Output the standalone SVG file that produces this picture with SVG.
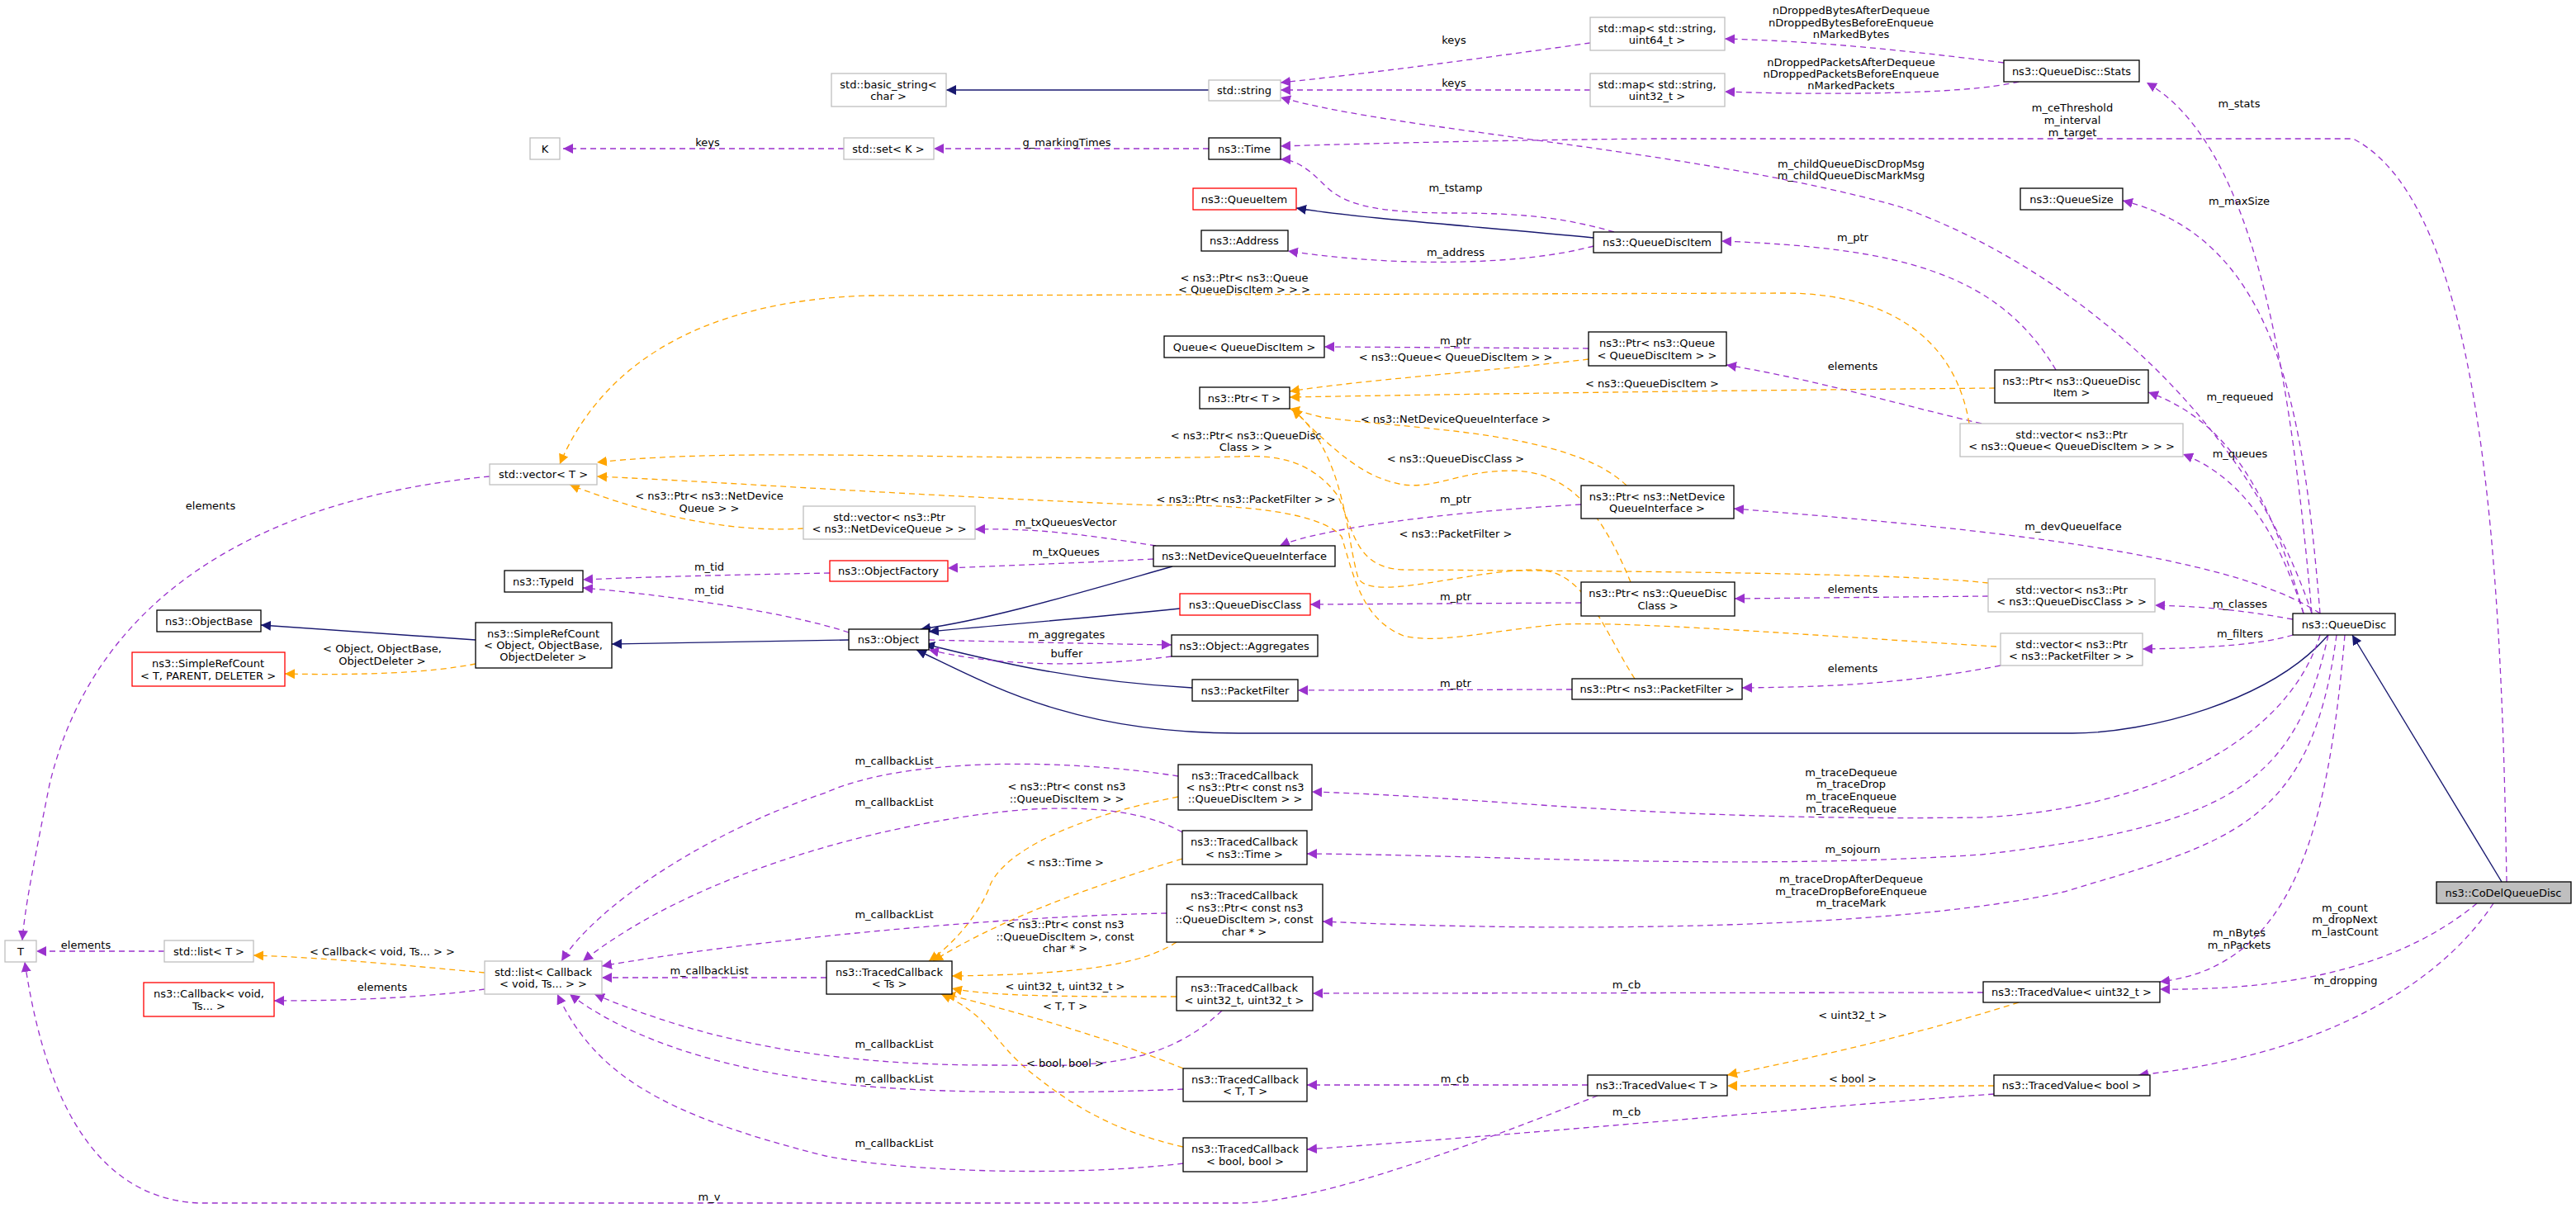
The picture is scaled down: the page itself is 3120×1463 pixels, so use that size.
<svg xmlns="http://www.w3.org/2000/svg" width="3120" height="1463" viewBox="0 0 3120 1463">
<style>
text{font-family:"DejaVu Sans","Liberation Sans",sans-serif;font-size:13px;fill:#000;text-anchor:middle;dominant-baseline:central}
.n rect{fill:#fff;stroke:#000;stroke-width:1.3}
.g rect{fill:#fff;stroke:#bfbfbf;stroke-width:1.3}
.r rect{fill:#fff;stroke:#ff0000;stroke-width:1.3}
.f rect{fill:#bfbfbf;stroke:#000;stroke-width:1.3}
.p{fill:none;stroke:#9a32cd;stroke-width:1.3;stroke-dasharray:7,5;marker-end:url(#mp)}
.o{fill:none;stroke:#ffa500;stroke-width:1.3;stroke-dasharray:7,5;marker-end:url(#mo)}
.b{fill:none;stroke:#191970;stroke-width:1.4;marker-end:url(#mb)}
</style>
<defs>
<marker id="mp" viewBox="0 0 10 10" refX="10" refY="5" markerWidth="12" markerHeight="12" markerUnits="userSpaceOnUse" orient="auto"><path d="M0,0L10,5L0,10z" fill="#9a32cd"/></marker>
<marker id="mo" viewBox="0 0 10 10" refX="10" refY="5" markerWidth="12" markerHeight="12" markerUnits="userSpaceOnUse" orient="auto"><path d="M0,0L10,5L0,10z" fill="#ffa500"/></marker>
<marker id="mb" viewBox="0 0 10 10" refX="10" refY="5" markerWidth="12" markerHeight="12" markerUnits="userSpaceOnUse" orient="auto"><path d="M0,0L10,5L0,10z" fill="#191970"/></marker>
</defs>
<rect width="3120" height="1463" fill="#fff"/>
<g id="edges">
<path class="b" d="M1464,109L1146,109"/>
<path class="p" d="M1926,52C1800,70 1650,90 1551,100"/>
<path class="p" d="M1926,109L1551,109"/>
<path class="p" d="M2800,743C2720,500 2500,320 2300,250C2050,180 1700,160 1551,118"/>
<path class="p" d="M2427,76C2300,60 2200,50 2089,47"/>
<path class="p" d="M2445,99C2380,115 2200,115 2089,111"/>
<path class="p" d="M3036,1068C3030,700 3010,250 2850,168L2000,168C1800,170 1650,174 1551,177"/>
<path class="p" d="M1022,180L682,180"/>
<path class="p" d="M1464,180L1131,180"/>
<path class="p" d="M1955,281C1900,265 1850,258 1760,258C1640,258 1620,240 1600,220C1580,200 1565,193 1551,193"/>
<path class="b" d="M1930,288C1800,275 1650,265 1570,252"/>
<path class="p" d="M1930,298C1850,320 1700,325 1560,304"/>
<path class="p" d="M2800,743C2770,400 2720,170 2600,100"/>
<path class="p" d="M2810,743C2790,500 2760,290 2571,243"/>
<path class="p" d="M2790,743C2750,600 2700,510 2602,475"/>
<path class="p" d="M2490,448C2420,330 2300,300 2085,292"/>
<path class="p" d="M2790,743C2760,650 2720,580 2644,550"/>
<path class="p" d="M2400,513C2300,490 2200,460 2091,442"/>
<path class="p" d="M1924,422L1604,420"/>
<path class="o" d="M1924,435C1800,450 1650,460 1562,474"/>
<path class="o" d="M2416,470C2200,472 1900,475 1562,481"/>
<path class="o" d="M2385,513C2370,420 2300,355 2160,355L1050,358C850,365 730,440 678,562"/>
<path class="o" d="M1970,588C1900,520 1700,520 1600,505C1580,500 1570,497 1562,495"/>
<path class="o" d="M1975,705C1940,620 1900,570 1830,570C1760,570 1730,600 1680,582C1640,570 1600,530 1565,495"/>
<path class="o" d="M1980,822C1940,760 1920,690 1860,690C1780,690 1660,730 1645,700C1630,650 1630,550 1565,495"/>
<path class="o" d="M2408,706C2300,694 2000,692 1700,690C1640,688 1640,640 1620,600C1590,560 1550,550 1500,553C1200,560 900,540 723,560"/>
<path class="o" d="M2418,783C2200,770 1950,750 1880,757C1800,765 1740,780 1700,770C1650,750 1640,700 1625,650C1600,620 1500,610 1400,612C1100,600 900,585 723,577"/>
<path class="o" d="M973,640C900,645 800,630 690,587"/>
<path class="p" d="M593,577C350,600 120,700 60,950C40,1050 30,1100 27,1139"/>
<path class="p" d="M1400,661C1300,645 1250,640 1181,641"/>
<path class="p" d="M1397,677C1300,682 1220,685 1148,688"/>
<path class="p" d="M1005,694C900,696 800,698 706,702"/>
<path class="p" d="M1028,766C950,740 800,720 706,712"/>
<path class="p" d="M1915,611C1750,620 1600,640 1550,661"/>
<path class="p" d="M1915,730L1587,732"/>
<path class="p" d="M1904,835L1572,836"/>
<path class="p" d="M2408,722L2101,725"/>
<path class="p" d="M2423,806C2300,830 2200,832 2110,833"/>
<path class="p" d="M2810,743C2700,670 2400,640 2100,616"/>
<path class="p" d="M2777,750C2720,740 2680,735 2610,733"/>
<path class="p" d="M2777,769C2740,780 2680,785 2595,786"/>
<path class="b" d="M1420,686C1300,720 1200,750 1115,762"/>
<path class="b" d="M1429,737C1300,750 1200,758 1125,765"/>
<path class="b" d="M1444,833C1300,825 1200,800 1120,780"/>
<path class="b" d="M2820,769C2750,850 2600,888 2510,888L1500,888C1300,888 1200,830 1110,787"/>
<path class="p" d="M1125,775C1250,778 1350,780 1419,781"/>
<path class="p" d="M1419,795C1300,810 1200,805 1125,787"/>
<path class="b" d="M1028,775L741,780"/>
<path class="b" d="M576,775L316,757"/>
<path class="o" d="M576,804C520,815 440,818 345,816"/>
<path class="p" d="M2810,769C2770,900 2600,980 2400,990C2000,995 1800,965 1589,959"/>
<path class="p" d="M2820,769C2780,950 2700,1000 2400,1035C2100,1055 1800,1035 1583,1034"/>
<path class="p" d="M2830,769C2800,1000 2700,1020 2500,1080C2300,1125 1900,1130 1602,1116"/>
<path class="p" d="M2840,769C2820,1000 2780,1170 2616,1189"/>
<path class="p" d="M3000,1094C2920,1160 2800,1200 2616,1198"/>
<path class="p" d="M3020,1094C2950,1200 2800,1280 2590,1302"/>
<path class="b" d="M3030,1068L2849,769"/>
<path class="p" d="M2402,1202L1590,1203"/>
<path class="o" d="M2445,1214C2300,1260 2150,1290 2092,1302"/>
<path class="o" d="M2415,1315L2092,1315"/>
<path class="p" d="M1923,1314L1583,1314"/>
<path class="p" d="M2415,1325C2200,1340 1900,1370 1583,1392"/>
<path class="p" d="M1935,1327C1800,1380 1600,1457 1500,1457L240,1457C100,1450 50,1300 30,1165"/>
<path class="o" d="M1432,1040C1300,1080 1200,1120 1130,1164"/>
<path class="o" d="M1427,965C1300,990 1220,1030 1200,1070C1190,1100 1160,1140 1125,1164"/>
<path class="o" d="M1425,1141C1380,1170 1300,1180 1153,1182"/>
<path class="o" d="M1425,1207C1300,1207 1200,1207 1153,1197"/>
<path class="o" d="M1433,1294C1350,1260 1250,1230 1145,1204"/>
<path class="o" d="M1433,1389C1350,1370 1300,1340 1250,1300C1200,1260 1200,1230 1140,1204"/>
<path class="p" d="M1001,1184L729,1184"/>
<path class="o" d="M587,1178C500,1170 400,1160 307,1157"/>
<path class="p" d="M587,1198C500,1210 400,1212 332,1212"/>
<path class="p" d="M199,1152L44,1152"/>
<path class="p" d="M1427,940C1300,920 1100,915 1000,960C850,1010 720,1100 680,1164"/>
<path class="p" d="M1432,1008C1400,990 1350,975 1250,980C1100,990 850,1050 706,1164"/>
<path class="p" d="M1413,1106C1200,1110 900,1140 729,1170"/>
<path class="p" d="M1480,1224C1400,1300 1300,1290 1200,1290C1000,1290 850,1260 720,1204"/>
<path class="p" d="M1433,1319C1300,1325 1100,1325 1000,1310C850,1290 750,1250 690,1204"/>
<path class="p" d="M1433,1409C1300,1425 1100,1420 1000,1400C800,1350 720,1300 675,1204"/>
<g id="edge-labels">
<text x="857" y="172">keys</text>
<text x="1761" y="48">keys</text>
<text x="1761" y="100">keys</text>
<text x="1292" y="172">g_markingTimes</text>
<text x="2242" y="12">nDroppedBytesAfterDequeue</text>
<text x="2242" y="27">nDroppedBytesBeforeEnqueue</text>
<text x="2242" y="41">nMarkedBytes</text>
<text x="2242" y="75">nDroppedPacketsAfterDequeue</text>
<text x="2242" y="89">nDroppedPacketsBeforeEnqueue</text>
<text x="2242" y="103">nMarkedPackets</text>
<text x="2510" y="130">m_ceThreshold</text>
<text x="2510" y="145">m_interval</text>
<text x="2510" y="160">m_target</text>
<text x="2242" y="198">m_childQueueDiscDropMsg</text>
<text x="2242" y="212">m_childQueueDiscMarkMsg</text>
<text x="2712" y="125">m_stats</text>
<text x="2712" y="243">m_maxSize</text>
<text x="1763" y="227">m_tstamp</text>
<text x="1763" y="305">m_address</text>
<text x="2244" y="287">m_ptr</text>
<text x="1507" y="336">&lt; ns3::Ptr&lt; ns3::Queue</text>
<text x="1507" y="350">&lt; QueueDiscItem &gt; &gt; &gt;</text>
<text x="1763" y="412">m_ptr</text>
<text x="1763" y="432">&lt; ns3::Queue&lt; QueueDiscItem &gt; &gt;</text>
<text x="2244" y="443">elements</text>
<text x="2001" y="464">&lt; ns3::QueueDiscItem &gt;</text>
<text x="2713" y="480">m_requeued</text>
<text x="1763" y="507">&lt; ns3::NetDeviceQueueInterface &gt;</text>
<text x="1509" y="527">&lt; ns3::Ptr&lt; ns3::QueueDisc</text>
<text x="1509" y="541">Class &gt; &gt;</text>
<text x="2713" y="549">m_queues</text>
<text x="1763" y="555">&lt; ns3::QueueDiscClass &gt;</text>
<text x="255" y="612">elements</text>
<text x="859" y="600">&lt; ns3::Ptr&lt; ns3::NetDevice</text>
<text x="859" y="615">Queue &gt; &gt;</text>
<text x="1509" y="604">&lt; ns3::Ptr&lt; ns3::PacketFilter &gt; &gt;</text>
<text x="1763" y="604">m_ptr</text>
<text x="1291" y="632">m_txQueuesVector</text>
<text x="2511" y="637">m_devQueueIface</text>
<text x="1763" y="646">&lt; ns3::PacketFilter &gt;</text>
<text x="1291" y="668">m_txQueues</text>
<text x="859" y="686">m_tid</text>
<text x="859" y="714">m_tid</text>
<text x="2244" y="713">elements</text>
<text x="1763" y="722">m_ptr</text>
<text x="2713" y="731">m_classes</text>
<text x="1292" y="768">m_aggregates</text>
<text x="2713" y="767">m_filters</text>
<text x="463" y="785">&lt; Object, ObjectBase,</text>
<text x="463" y="800">ObjectDeleter &gt;</text>
<text x="1292" y="791">buffer</text>
<text x="2244" y="809">elements</text>
<text x="1763" y="827">m_ptr</text>
<text x="1083" y="921">m_callbackList</text>
<text x="1083" y="971">m_callbackList</text>
<text x="1292" y="952">&lt; ns3::Ptr&lt; const ns3</text>
<text x="1292" y="967">::QueueDiscItem &gt; &gt;</text>
<text x="2242" y="935">m_traceDequeue</text>
<text x="2242" y="949">m_traceDrop</text>
<text x="2242" y="964">m_traceEnqueue</text>
<text x="2242" y="979">m_traceRequeue</text>
<text x="2244" y="1028">m_sojourn</text>
<text x="1290" y="1044">&lt; ns3::Time &gt;</text>
<text x="2242" y="1064">m_traceDropAfterDequeue</text>
<text x="2242" y="1079">m_traceDropBeforeEnqueue</text>
<text x="2242" y="1093">m_traceMark</text>
<text x="2840" y="1099">m_count</text>
<text x="2840" y="1113">m_dropNext</text>
<text x="2840" y="1128">m_lastCount</text>
<text x="1083" y="1107">m_callbackList</text>
<text x="1290" y="1119">&lt; ns3::Ptr&lt; const ns3</text>
<text x="1290" y="1134">::QueueDiscItem &gt;, const</text>
<text x="1290" y="1148">char * &gt;</text>
<text x="2712" y="1129">m_nBytes</text>
<text x="2712" y="1144">m_nPackets</text>
<text x="104" y="1144">elements</text>
<text x="463" y="1152">&lt; Callback&lt; void, Ts... &gt; &gt;</text>
<text x="859" y="1175">m_callbackList</text>
<text x="2841" y="1187">m_dropping</text>
<text x="1970" y="1192">m_cb</text>
<text x="1290" y="1194">&lt; uint32_t, uint32_t &gt;</text>
<text x="463" y="1195">elements</text>
<text x="1290" y="1218">&lt; T, T &gt;</text>
<text x="2244" y="1229">&lt; uint32_t &gt;</text>
<text x="1083" y="1264">m_callbackList</text>
<text x="1290" y="1287">&lt; bool, bool &gt;</text>
<text x="1762" y="1306">m_cb</text>
<text x="1083" y="1306">m_callbackList</text>
<text x="2244" y="1306">&lt; bool &gt;</text>
<text x="1970" y="1346">m_cb</text>
<text x="1083" y="1384">m_callbackList</text>
<text x="859" y="1449">m_v</text>
</g>
</g>
<g id="n_basic_string" class="g"><rect x="1007" y="89" width="139" height="40"/><text x="1076" y="102">std::basic_string&lt;</text><text x="1076" y="116">char &gt;</text></g>
<g id="n_string" class="g"><rect x="1464" y="97" width="87" height="25"/><text x="1507" y="109">std::string</text></g>
<g id="n_map64" class="g"><rect x="1926" y="21" width="163" height="40"/><text x="2007" y="34">std::map&lt; std::string,</text><text x="2007" y="48">uint64_t &gt;</text></g>
<g id="n_map32" class="g"><rect x="1926" y="89" width="163" height="40"/><text x="2007" y="102">std::map&lt; std::string,</text><text x="2007" y="116">uint32_t &gt;</text></g>
<g id="n_stats" class="n"><rect x="2427" y="73" width="164" height="26"/><text x="2509" y="86">ns3::QueueDisc::Stats</text></g>
<g id="n_K" class="g"><rect x="642" y="167" width="36" height="26"/><text x="660" y="180">K</text></g>
<g id="n_set" class="g"><rect x="1022" y="167" width="109" height="26"/><text x="1076" y="180">std::set&lt; K &gt;</text></g>
<g id="n_time" class="n"><rect x="1464" y="167" width="87" height="26"/><text x="1507" y="180">ns3::Time</text></g>
<g id="n_queuesize" class="n"><rect x="2447" y="228" width="124" height="26"/><text x="2509" y="241">ns3::QueueSize</text></g>
<g id="n_queueitem" class="r"><rect x="1445" y="228" width="125" height="26"/><text x="1507" y="241">ns3::QueueItem</text></g>
<g id="n_address" class="n"><rect x="1455" y="279" width="105" height="25"/><text x="1507" y="291">ns3::Address</text></g>
<g id="n_qdi" class="n"><rect x="1930" y="281" width="155" height="25"/><text x="2007" y="293">ns3::QueueDiscItem</text></g>
<g id="n_queueqdi" class="n"><rect x="1410" y="407" width="194" height="26"/><text x="1507" y="420">Queue&lt; QueueDiscItem &gt;</text></g>
<g id="n_ptrqueue" class="n"><rect x="1924" y="402" width="167" height="41"/><text x="2007" y="415">ns3::Ptr&lt; ns3::Queue</text><text x="2007" y="430">&lt; QueueDiscItem &gt; &gt;</text></g>
<g id="n_ptrT" class="n"><rect x="1453" y="469" width="109" height="26"/><text x="1507" y="482">ns3::Ptr&lt; T &gt;</text></g>
<g id="n_ptrqdi" class="n"><rect x="2416" y="448" width="186" height="40"/><text x="2509" y="461">ns3::Ptr&lt; ns3::QueueDisc</text><text x="2509" y="475">Item &gt;</text></g>
<g id="n_vecptrqueue" class="g"><rect x="2374" y="513" width="270" height="40"/><text x="2509" y="526">std::vector&lt; ns3::Ptr</text><text x="2509" y="540">&lt; ns3::Queue&lt; QueueDiscItem &gt; &gt; &gt;</text></g>
<g id="n_vecT" class="g"><rect x="593" y="562" width="130" height="25"/><text x="658" y="574">std::vector&lt; T &gt;</text></g>
<g id="n_ptrndqi" class="n"><rect x="1915" y="588" width="185" height="40"/><text x="2007" y="601">ns3::Ptr&lt; ns3::NetDevice</text><text x="2007" y="615">QueueInterface &gt;</text></g>
<g id="n_vecndq" class="g"><rect x="973" y="613" width="208" height="40"/><text x="1077" y="626">std::vector&lt; ns3::Ptr</text><text x="1077" y="640">&lt; ns3::NetDeviceQueue &gt; &gt;</text></g>
<g id="n_ndqi" class="n"><rect x="1397" y="661" width="220" height="25"/><text x="1507" y="673">ns3::NetDeviceQueueInterface</text></g>
<g id="n_objfactory" class="r"><rect x="1005" y="679" width="143" height="25"/><text x="1076" y="691">ns3::ObjectFactory</text></g>
<g id="n_typeid" class="n"><rect x="611" y="691" width="95" height="26"/><text x="658" y="704">ns3::TypeId</text></g>
<g id="n_qdclass" class="r"><rect x="1429" y="719" width="158" height="26"/><text x="1508" y="732">ns3::QueueDiscClass</text></g>
<g id="n_ptrqdc" class="n"><rect x="1915" y="705" width="186" height="41"/><text x="2008" y="718">ns3::Ptr&lt; ns3::QueueDisc</text><text x="2008" y="733">Class &gt;</text></g>
<g id="n_vecptrqdc" class="g"><rect x="2408" y="701" width="202" height="40"/><text x="2509" y="714">std::vector&lt; ns3::Ptr</text><text x="2509" y="728">&lt; ns3::QueueDiscClass &gt; &gt;</text></g>
<g id="n_queuedisc" class="n"><rect x="2777" y="743" width="124" height="26"/><text x="2839" y="756">ns3::QueueDisc</text></g>
<g id="n_objectbase" class="n"><rect x="190" y="739" width="126" height="26"/><text x="253" y="752">ns3::ObjectBase</text></g>
<g id="n_srcobj" class="n"><rect x="576" y="754" width="165" height="55"/><text x="658" y="767">ns3::SimpleRefCount</text><text x="658" y="781">&lt; Object, ObjectBase,</text><text x="658" y="795">ObjectDeleter &gt;</text></g>
<g id="n_object" class="n"><rect x="1028" y="762" width="97" height="25"/><text x="1076" y="774">ns3::Object</text></g>
<g id="n_aggregates" class="n"><rect x="1419" y="769" width="177" height="26"/><text x="1507" y="782">ns3::Object::Aggregates</text></g>
<g id="n_vecptrpf" class="g"><rect x="2423" y="767" width="172" height="39"/><text x="2509" y="780">std::vector&lt; ns3::Ptr</text><text x="2509" y="794">&lt; ns3::PacketFilter &gt; &gt;</text></g>
<g id="n_srcT" class="r"><rect x="160" y="790" width="185" height="41"/><text x="252" y="803">ns3::SimpleRefCount</text><text x="252" y="818">&lt; T, PARENT, DELETER &gt;</text></g>
<g id="n_packetfilter" class="n"><rect x="1444" y="823" width="128" height="26"/><text x="1508" y="836">ns3::PacketFilter</text></g>
<g id="n_ptrpf" class="n"><rect x="1904" y="822" width="206" height="25"/><text x="2007" y="834">ns3::Ptr&lt; ns3::PacketFilter &gt;</text></g>
<g id="n_tcptrqdi" class="n"><rect x="1427" y="926" width="162" height="55"/><text x="1508" y="939">ns3::TracedCallback</text><text x="1508" y="953">&lt; ns3::Ptr&lt; const ns3</text><text x="1508" y="967">::QueueDiscItem &gt; &gt;</text></g>
<g id="n_tctime" class="n"><rect x="1432" y="1006" width="151" height="41"/><text x="1507" y="1019">ns3::TracedCallback</text><text x="1507" y="1034">&lt; ns3::Time &gt;</text></g>
<g id="n_codel" class="f"><rect x="2951" y="1068" width="163" height="26"/><text x="3032" y="1081">ns3::CoDelQueueDisc</text></g>
<g id="n_tcptrchar" class="n"><rect x="1413" y="1071" width="189" height="70"/><text x="1507" y="1084">ns3::TracedCallback</text><text x="1507" y="1099">&lt; ns3::Ptr&lt; const ns3</text><text x="1507" y="1113">::QueueDiscItem &gt;, const</text><text x="1507" y="1128">char * &gt;</text></g>
<g id="n_T" class="g"><rect x="6" y="1139" width="38" height="26"/><text x="25" y="1152">T</text></g>
<g id="n_listT" class="g"><rect x="199" y="1139" width="108" height="26"/><text x="253" y="1152">std::list&lt; T &gt;</text></g>
<g id="n_listcb" class="g"><rect x="587" y="1164" width="142" height="40"/><text x="658" y="1177">std::list&lt; Callback</text><text x="658" y="1191">&lt; void, Ts... &gt; &gt;</text></g>
<g id="n_tcts" class="n"><rect x="1001" y="1164" width="152" height="40"/><text x="1077" y="1177">ns3::TracedCallback</text><text x="1077" y="1191">&lt; Ts &gt;</text></g>
<g id="n_callback" class="r"><rect x="174" y="1190" width="158" height="41"/><text x="253" y="1203">ns3::Callback&lt; void,</text><text x="253" y="1218">Ts... &gt;</text></g>
<g id="n_tcuu" class="n"><rect x="1425" y="1183" width="165" height="41"/><text x="1507" y="1196">ns3::TracedCallback</text><text x="1507" y="1211">&lt; uint32_t, uint32_t &gt;</text></g>
<g id="n_tvu" class="n"><rect x="2402" y="1189" width="214" height="25"/><text x="2509" y="1201">ns3::TracedValue&lt; uint32_t &gt;</text></g>
<g id="n_tctt" class="n"><rect x="1433" y="1294" width="150" height="40"/><text x="1508" y="1307">ns3::TracedCallback</text><text x="1508" y="1321">&lt; T, T &gt;</text></g>
<g id="n_tvT" class="n"><rect x="1923" y="1302" width="169" height="25"/><text x="2007" y="1314">ns3::TracedValue&lt; T &gt;</text></g>
<g id="n_tvb" class="n"><rect x="2415" y="1302" width="189" height="25"/><text x="2509" y="1314">ns3::TracedValue&lt; bool &gt;</text></g>
<g id="n_tcbb" class="n"><rect x="1433" y="1378" width="150" height="41"/><text x="1508" y="1391">ns3::TracedCallback</text><text x="1508" y="1406">&lt; bool, bool &gt;</text></g>
</svg>
